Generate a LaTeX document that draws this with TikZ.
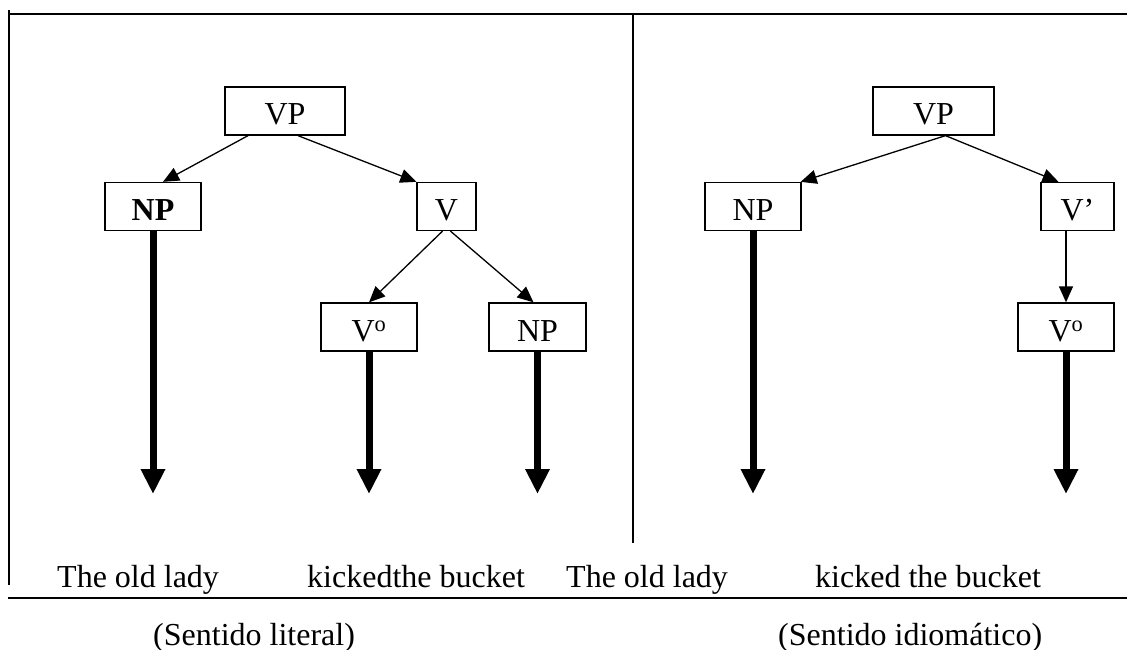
\documentclass[tikz,border=0pt]{standalone}
\usepackage{fontspec}
\setmainfont{Liberation Serif}
\usetikzlibrary{arrows.meta,calc}
\tikzset{
  every node/.style={font=\fontsize{32}{38}\selectfont},
  box/.style={draw,line width=1.3pt,inner sep=0pt,text height=28pt,text depth=0pt,minimum height=48pt},
  thin/.style={line width=1.3pt,-{Triangle[length=16pt,width=14pt]}},
  thick/.style={line width=7pt,-{Triangle[length=25pt,width=23pt]}},
  frame/.style={line width=1.3pt},
  word/.style={anchor=base west,inner sep=0pt}
}
\begin{document}
\begin{tikzpicture}[x=1pt,y=-1pt]
\useasboundingbox (0,0) rectangle (1127,650);
% frame lines
\draw[frame] (8,14) -- (1127,14);
\draw[frame] (9,10) -- (9,585);
\draw[line width=1.1pt] (633,14) -- (633,543);
\draw[frame] (8,598) -- (1127,598);

% left tree
\node[box,minimum width=120pt] (vpL) at (285,111) {VP};
\node[box,minimum width=96pt] (npL) at (153,206.5) {\textbf{NP}};
\node[box,minimum width=59pt] (vL) at (446.5,206.5) {V};
\node[box,minimum width=96pt] (voL) at (369,327) {V\textsuperscript{o}};
\node[box,minimum width=97pt] (np2L) at (537.5,327) {NP};

% right tree
\node[box,minimum width=121pt] (vpR) at (933.5,111) {VP};
\node[box,minimum width=96pt] (npR) at (753,206.5) {NP};
\node[box,minimum width=73pt] (vbR) at (1077.5,206.5) {V’};
\node[box,minimum width=96pt] (voR) at (1066,327) {V\textsuperscript{o}};

% thin connectors
\draw[thin] ($(vpL.south)+(-37,0)$) -- ($(npL.north)+(10,0)$);
\draw[thin] ($(vpL.south)+(13,0)$) -- (vL.north west);
\draw[thin] ($(vL.south)+(-4,0)$) -- (voL.north);
\draw[thin] ($(vL.south)+(4,0)$) -- ($(np2L.north)+(-4,0)$);
\draw[thin] ($(vpR.south)+(12,0)$) -- ($(npR.north east)+(-1,0)$);
\draw[thin] ($(vpR.south)+(12,0)$) -- ($(vbR.north)+(-19,0)$);
\draw[thin] ($(vbR.south)+(-11.5,0)$) -- (voR.north);

% thick connectors
\coordinate (t1) at (153,494);
\coordinate (t2) at (369,494);
\coordinate (t3) at (537.5,494);
\coordinate (t4) at (753,494);
\coordinate (t5) at (1066,494);
\draw[thick] (npL.south) -- (t1);
\draw[thick] (voL.south) -- (t2);
\draw[thick] (np2L.south) -- (t3);
\draw[thick] (npR.south) -- (t4);
\draw[thick] (voR.south) -- (t5);

% words
\node[word] (w1) at (57,587) {The old lady};
\node[word] (w2) at (307,587) {kickedthe bucket};
\node[word] (w3) at (566,587) {The old lady};
\node[word] (w4) at (815,587) {kicked the bucket};
\node[word] (c1) at (153,645) {(Sentido literal)};
\node[word] (c2) at (778,645) {(Sentido idiomático)};
\end{tikzpicture}
\end{document}
